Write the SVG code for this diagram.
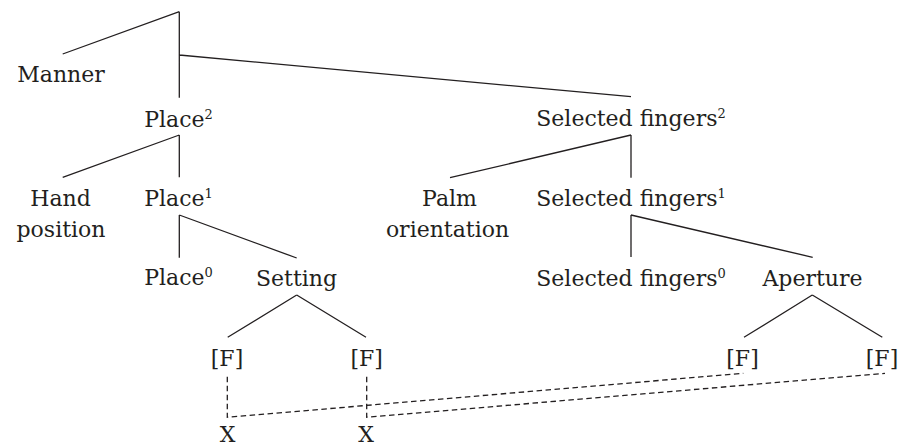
<svg xmlns="http://www.w3.org/2000/svg" width="898" height="448" viewBox="0 0 898 448">
<style>
text{font-family:"DejaVu Serif","Liberation Serif",serif;font-size:22px;fill:#231f20;text-anchor:middle}
.sup{font-size:13px}
.ln{stroke:#231f20;stroke-width:1.3;fill:none}
.dash{stroke:#231f20;stroke-width:1.3;fill:none;stroke-dasharray:5.5 3.5}
</style>
<rect width="898" height="448" fill="#fff"/>
<g id="connectors">
<path class="ln" d="M179.3 11.7L62.7 54M179.3 11.7V97.7M179.3 55L631 96.7"/>
<path class="ln" d="M179.3 135L62.7 177.3M179.3 135V177.3"/>
<path class="ln" d="M179.3 215V257.7M179.3 215L296.7 258"/>
<path class="ln" d="M296.7 295L227.7 337.3M296.7 295L366 337.3"/>
<path class="ln" d="M631 135L450 177.7M631 135V177.7"/>
<path class="ln" d="M631 215V257M631 215L812.7 257.3"/>
<path class="ln" d="M812.3 295L744 337.3M812.3 295L882.3 337.3"/>
<polyline class="dash" points="227.3,376.7 227.3,417.3 743.3,373.3"/>
<polyline class="dash" points="366.7,376.7 366.7,417.3 885,373.3"/>
</g>
<g id="manner"><text x="61" y="82">Manner</text></g>
<g id="place2"><text x="178.5" y="126.7">Place<tspan class="sup" dy="-8">2</tspan></text></g>
<g id="sf2"><text x="631" y="125.7">Selected fingers<tspan class="sup" dy="-8">2</tspan></text></g>
<g id="handpos"><text x="60.5" y="206">Hand</text><text x="61" y="237">position</text></g>
<g id="place1"><text x="178.5" y="206">Place<tspan class="sup" dy="-8">1</tspan></text></g>
<g id="palm"><text x="449.5" y="206">Palm</text><text x="447.5" y="237">orientation</text></g>
<g id="sf1"><text x="631" y="206">Selected fingers<tspan class="sup" dy="-8">1</tspan></text></g>
<g id="place0"><text x="178.5" y="285">Place<tspan class="sup" dy="-8">0</tspan></text></g>
<g id="setting"><text x="296.5" y="286">Setting</text></g>
<g id="sf0"><text x="631" y="286">Selected fingers<tspan class="sup" dy="-8">0</tspan></text></g>
<g id="aperture"><text x="812.5" y="286">Aperture</text></g>
<g id="f1"><text x="227" y="366">[F]</text></g>
<g id="f2"><text x="366.7" y="366">[F]</text></g>
<g id="f3"><text x="742.5" y="366">[F]</text></g>
<g id="f4"><text x="882" y="366">[F]</text></g>
<g id="x1"><text x="227.5" y="442">X</text></g>
<g id="x2"><text x="366" y="442">X</text></g>
</svg>
